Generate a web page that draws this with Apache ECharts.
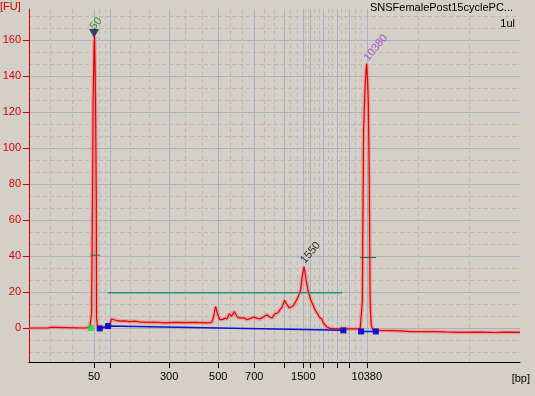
<!DOCTYPE html>
<html><head><meta charset="utf-8">
<script src="https://cdn.jsdelivr.net/npm/echarts@6/dist/echarts.min.js"></script>
<style>html,body{margin:0;padding:0;background:#d4d0c8}#c{width:535px;height:396px}</style>
</head><body><div id="c"></div><script>
// X axis = migration position (arbitrary units); ladder sizes sit at these positions
const ladderBp  = [50, 100, 300, 500, 700, 1000, 1500, 2000, 3000, 5000, 7000, 10380];
const ladderPos = [6.50, 8.10, 14.00, 18.90, 22.50, 25.50, 27.40, 28.10, 29.40, 30.74, 32.00, 33.74];
const labeledBp = [50, 300, 500, 700, 1500, 10380];
const yTickValues = [0, 20, 40, 60, 80, 100, 120, 140, 160];

// electropherogram trace
const traceT = [0, 1.47, 1.57, 1.77, 2.27, 2.57, 2.67, 5.57, 6.07,
  6.20, 6.25, 6.34, 6.40, 6.50, 6.55, 6.64, 6.72, 6.75, 6.84, 6.97, 7.47, 7.87,
  8.07, 8.24, 8.37, 8.74, 9.07, 9.57, 10.07, 10.57, 11.07, 11.74, 12.57, 13.57, 14.57,
  15.57, 16.74, 17.57, 18.24, 18.42, 18.64, 18.82, 19.07, 19.37, 19.57, 19.77, 20.00,
  20.24, 20.50, 20.80, 21.07, 21.47, 21.74, 22.07, 22.40, 22.67, 23.07, 23.37, 23.74,
  24.07, 24.27, 24.57, 24.87, 25.07, 25.27, 25.52, 25.72, 26.00, 26.17, 26.40, 26.67,
  26.90, 27.14, 27.27, 27.47, 27.57, 27.67, 27.90, 28.14, 28.40, 28.57, 28.74, 28.87,
  29.00, 29.24, 29.40, 29.74, 30.07, 30.57, 31.40, 32.07, 32.57, 33.07,
  33.24, 33.30, 33.35, 33.42, 33.55, 33.64, 33.72, 33.80, 33.89, 33.99, 34.07, 34.17,
  34.32, 34.74, 36.07, 37.07, 38.07, 40.37, 41.57, 43.07, 45.07, 46.57, 47.57, 49.04];
const traceFU = [0, 0, -0.3, 0, 0.4, 0.4, 0, 0, 0.3,
  1, 8, 70, 125, 158, 162, 130, 71, 5.5, 1, 0.2, 0, 0.5,
  2, 5, 4.5, 4.2, 3.8, 4.0, 3.6, 3.8, 3.4, 3.1, 3.2, 2.9, 3.1,
  3.0, 3.1, 2.9, 3.0, 6, 12, 8, 4.6, 4.8, 5.5, 5.0, 7.9,
  6.5, 9.2, 6.1, 5.5, 5.8, 4.6, 5.2, 6.1, 5.6, 5.0, 6.0, 7.4,
  6.0, 5.6, 7.9, 8.5, 10.2, 11.5, 15.5, 13.5, 11.1, 12, 12.4, 15,
  17.6, 21.3, 28, 34.2, 31, 26.8, 20.3, 15.7, 12.4, 10, 9.2, 7.5,
  6.1, 5.0, 2.8, 0.6, -0.2, -0.4, -0.5, -0.4, -0.5, -0.5,
  0.5, 15, 60, 110, 132, 142, 147, 140, 126, 80, 15, 2,
  -0.8, -1.3, -1.4, -1.6, -2.0, -2.0, -2.2, -2.4, -2.3, -2.5, -2.3, -2.4];

// baseline / smear region / marker points
const baseT1 = [7.07, 7.90, 31.40];  const baseFU1 = [-0.2, 1.1, -1.3];
const baseT2 = [33.17, 34.64];       const baseFU2 = [-1.9, -1.9];
const startT = [6.17];               const startFU = [0];
const smearT = [7.87, 31.27];        const smearFU = [19.6, 19.6];
const half1T = [6.17, 7.07];         const half1FU = [40.5, 40.5];
const half2T = [33.07, 34.67];       const half2FU = [39.2, 39.2];
const peakT = [6.50, 27.47, 33.72];  const peakFU = [161, 34.2, 147];
const peakLabel = ['50', '1550', '10380'];

const xMin = 0, xMax = 49.04, yMin = -18.9, yMax = 177.4;
const pairs = (a, b) => a.map((v, i) => [v, b[i]]);

// minor dashed grid positions: thirds of every interval
const xBounds = [xMin, ...ladderPos, xMax];
const xMinor = [];
for (let i = 0; i < xBounds.length - 1; i++) {
  const d = (xBounds[i + 1] - xBounds[i]) / 3;
  xMinor.push(xBounds[i] + d, xBounds[i] + 2 * d);
}
const yMinor = [];
for (let k = -2; k <= 26; k++) if (k % 3 !== 0) yMinor.push(k * 20 / 3);

const FONT = 'Liberation Sans';
const chart = echarts.init(document.getElementById('c'), null, {renderer: 'canvas'});
const labelPosOf = v => { const i = ladderPos.findIndex(p => Math.abs(p - v) < 1e-6); return i < 0 ? '' : String(ladderBp[i]); };

chart.setOption({
  backgroundColor: '#d4d0c8',
  animation: false,
  title: [
    {text: '[FU]', left: 0, top: 1, padding: 0, textStyle: {color: '#cc0000', fontSize: 11, fontWeight: 'normal', fontFamily: FONT}},
    {text: 'SNSFemalePost15cyclePC...', right: 22, top: 2, padding: 0, textStyle: {color: '#000', fontSize: 11, fontWeight: 'normal', fontFamily: FONT}},
    {text: '1ul', right: 20, top: 18, padding: 0, textStyle: {color: '#000', fontSize: 11, fontWeight: 'normal', fontFamily: FONT}},
    {text: '[bp]', right: 5, top: 373, padding: 0, textStyle: {color: '#000', fontSize: 11, fontWeight: 'normal', fontFamily: FONT}}
  ],
  grid: {left: 29, right: 15, top: 9, bottom: 34, containLabel: false, outerBoundsMode: 'none'},
  xAxis: [
    {type: 'value', min: xMin, max: xMax, position: 'bottom',
     axisLine: {show: true, onZero: false, lineStyle: {color: '#000', width: 1}},
     axisTick: {show: true, length: 6, customValues: ladderPos, lineStyle: {color: '#000'}},
     axisLabel: {show: true, customValues: labeledBp.map(b => ladderPos[ladderBp.indexOf(b)]), formatter: labelPosOf,
       color: '#000', fontSize: 11, fontFamily: FONT, margin: 9},
     splitLine: {show: true, lineStyle: {color: '#a9b1c0', width: 1}}},
    {type: 'value', min: xMin, max: xMax, position: 'top',
     axisLine: {show: false}, axisLabel: {show: false},
     axisTick: {show: false, customValues: xMinor},
     splitLine: {show: true, lineStyle: {color: '#bdbab3', width: 1, type: [4, 3]}}}
  ],
  yAxis: [
    {type: 'value', min: yMin, max: yMax,
     axisLine: {show: true, onZero: false, lineStyle: {color: '#cc0000', width: 1}},
     axisTick: {show: true, length: 6, customValues: yTickValues, lineStyle: {color: '#cc0000'}},
     axisLabel: {show: true, customValues: yTickValues, color: '#cc0000', fontSize: 11, fontFamily: FONT, margin: 8},
     splitLine: {show: true, lineStyle: {color: '#a9b1c0', width: 1}}},
    {type: 'value', min: yMin, max: yMax, position: 'right',
     axisLine: {show: false}, axisLabel: {show: false},
     axisTick: {show: false, customValues: yMinor},
     splitLine: {show: true, lineStyle: {color: '#bdbab3', width: 1, type: [4, 3]}}}
  ],
  series: [
    {type: 'line', data: pairs(traceT, traceFU), showSymbol: false, silent: true, z: 3,
     lineStyle: {color: 'rgba(255,110,110,0.45)', width: 4}},
    {type: 'line', data: pairs(traceT, traceFU), showSymbol: false, silent: true, z: 4,
     lineStyle: {color: '#e00000', width: 1.2}},
    {type: 'line', data: pairs(smearT, smearFU), showSymbol: false, z: 5,
     lineStyle: {color: '#2e8d85', width: 1.5}},
    {type: 'line', data: pairs(half1T, half1FU), showSymbol: false, z: 5,
     lineStyle: {color: '#3c5a4a', width: 1}},
    {type: 'line', data: pairs(half2T, half2FU), showSymbol: false, z: 5,
     lineStyle: {color: '#3c5a4a', width: 1}},
    {type: 'line', data: pairs(baseT1, baseFU1), symbol: 'rect', symbolSize: 6, showSymbol: true, z: 6,
     itemStyle: {color: '#1010d0'}, lineStyle: {color: '#1010d0', width: 1.5}},
    {type: 'line', data: pairs(baseT2, baseFU2), symbol: 'rect', symbolSize: 6, showSymbol: true, z: 6,
     itemStyle: {color: '#1010d0'}, lineStyle: {color: '#1010d0', width: 1.5}},
    {type: 'scatter', data: pairs(startT, startFU), symbol: 'rect', symbolSize: 6, z: 7,
     itemStyle: {color: '#22dd22'}},
    {type: 'scatter', z: 8,
     data: peakT.map((t, i) => ({
       value: [t, peakFU[i]],
       symbol: 'triangle',
       symbolSize: i === 0 ? [10, 9] : [2, 2],
       symbolRotate: 180,
       symbolOffset: i === 0 ? [0, -5] : [0, 0],
       itemStyle: {color: i === 0 ? '#16164e' : 'rgba(0,0,0,0)'},
       label: {
         show: true, formatter: peakLabel[i], position: 'top', rotate: 50,
         align: 'left', verticalAlign: 'middle',
         distance: [3, 5, 4][i], offset: [[-3, 0], [-2, 0], [-1, 0]][i],
         color: ['#1e7a1e', '#000000', '#9933cc'][i], fontSize: 11, fontFamily: FONT
       }
     }))}
  ]
});
</script></body></html>
